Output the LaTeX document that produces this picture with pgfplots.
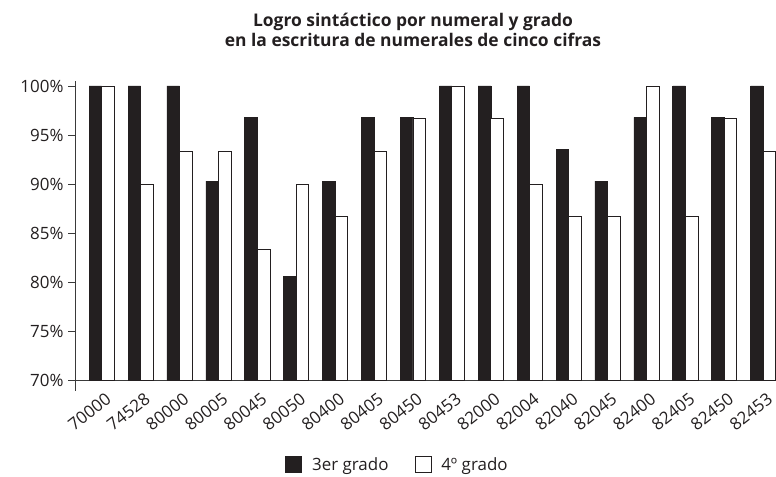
\documentclass[border=0pt]{standalone}
\usepackage{pgfplots}
\pgfplotsset{compat=1.18}
\usepackage{fontspec}
\setmainfont{Open Sans}
\definecolor{ink}{HTML}{231F20}
\definecolor{axisgray}{HTML}{3A3A3A}
\begin{document}
\begin{tikzpicture}[x=1bp,y=1bp]
\useasboundingbox (0,0) rectangle (776,-477);
\node[font=\fontsize{17.5}{20}\selectfont\bfseries, text=ink, anchor=base] at (413,-27)
  {Logro sintáctico por numeral y grado};
\node[font=\fontsize{17.5}{20}\selectfont\bfseries, text=ink, anchor=base] at (413,-47)
  {en la escritura de numerales de cinco cifras};
\draw[axisgray, line width=0.8bp] (75,-380) -- (75,-391);
\begin{axis}[
  at={(75bp,-380bp)}, anchor=south west,
  scale only axis, width=701bp, height=298.9bp,
  ymin=70, ymax=100.5, xmin=-0.686, xmax=17.33,
  ytick={70,75,80,85,90,95,100},
  yticklabels={70\%,75\%,80\%,85\%,90\%,95\%,100\%},
  xtick={0,...,17},
  xticklabels={70000,74528,80000,80005,80045,80050,80400,80405,80450,80453,82000,82004,82040,82045,82400,82405,82450,82453},
  axis x line*=bottom, axis y line*=left,
  axis line style={draw=axisgray, line width=0.8bp},
  tick align=outside, major tick length=7bp,
  ytick style={draw=axisgray, line width=0.8bp},
  xtick style={draw=none},
  tick label style={font=\fontsize{17}{20}\selectfont, text=ink},
  yticklabel style={xshift=-1bp},
  x tick label style={rotate=38, anchor=north east, xshift=3bp, yshift=-2bp},
  legend style={at={(0.46,-0.284)}, anchor=center, draw=none, fill=none,
    legend columns=2, font=\fontsize{17}{20}\selectfont, text=ink,
    /tikz/every odd column/.append style={column sep=8bp},
    /tikz/every even column/.append style={column sep=24bp}},
  legend image code/.code={\draw[#1, line width=0.8bp] (0bp,-8bp) rectangle (16bp,8bp);},
]
\addplot[ybar, bar width=12.6bp, bar shift=-6.3bp, fill=ink, draw=ink, line width=0.6bp]
 coordinates {(0,100) (1,100) (2,100) (3,90.3) (4,96.8) (5,80.6) (6,90.3) (7,96.8) (8,96.8)
  (9,100) (10,100) (11,100) (12,93.5) (13,90.3) (14,96.8) (15,100) (16,96.8) (17,100)};
\addplot[ybar, bar width=12.6bp, bar shift=6.3bp, fill=white, draw=ink, line width=0.8bp]
 coordinates {(0,100) (1,90) (2,93.3) (3,93.3) (4,83.3) (5,90) (6,86.7) (7,93.3) (8,96.7)
  (9,100) (10,96.7) (11,90) (12,86.7) (13,86.7) (14,100) (15,86.7) (16,96.7) (17,93.3)};
\legend{3er grado, 4º grado}
\end{axis}
\end{tikzpicture}
\end{document}
